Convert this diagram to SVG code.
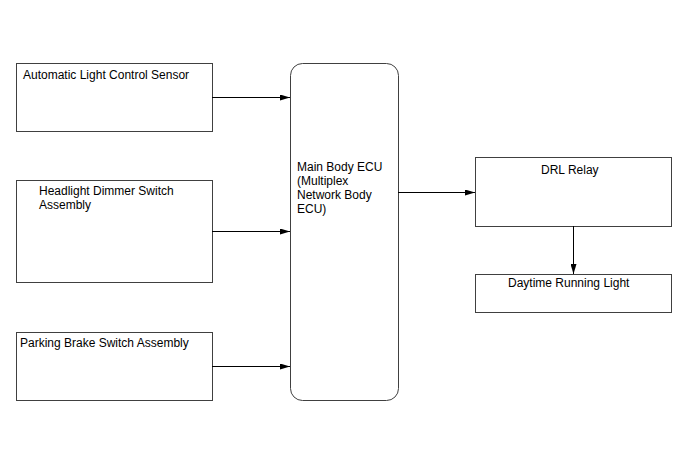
<svg xmlns="http://www.w3.org/2000/svg" width="688" height="463" viewBox="0 0 688 463">
<style>
.b{fill:#fff;stroke:#404040;stroke-width:1}
.t{font-family:"Liberation Sans",Arial,sans-serif;font-size:12px;fill:#000}
.c{stroke:#000;stroke-width:1;fill:none;marker-end:url(#a)}
</style>
<defs>
<marker id="a" markerWidth="10" markerHeight="6" refX="10" refY="3" orient="auto" markerUnits="userSpaceOnUse">
<path d="M0,0 L10,3 L0,6 Z" fill="#000"/>
</marker>
</defs>
<rect width="688" height="463" fill="#fff"/>
<g id="n1"><rect class="b" x="16.5" y="63.5" width="196" height="68"/><text class="t" x="23" y="79">Automatic Light Control Sensor</text></g>
<g id="n2"><rect class="b" x="16.5" y="180.5" width="196" height="102"/><text class="t" x="39" y="195">Headlight Dimmer Switch</text><text class="t" x="39" y="209">Assembly</text></g>
<g id="n3"><rect class="b" x="16.5" y="332.5" width="196" height="68"/><text class="t" x="20" y="347">Parking Brake Switch Assembly</text></g>
<g id="ecu"><rect class="b" x="290.5" y="63.5" width="108" height="337" rx="12"/><text class="t" x="297" y="171">Main Body ECU</text><text class="t" x="297" y="185">(Multiplex</text><text class="t" x="297" y="199">Network Body</text><text class="t" x="297" y="213">ECU)</text></g>
<g id="drl"><rect class="b" x="475.5" y="157.5" width="196" height="69"/><text class="t" x="541" y="174">DRL Relay</text></g>
<g id="light"><rect class="b" x="475.5" y="274.5" width="196" height="38"/><text class="t" x="508" y="287">Daytime Running Light</text></g>
<g id="connectors">
<line class="c" x1="212" y1="97.5" x2="290" y2="97.5"/>
<line class="c" x1="212" y1="231.5" x2="290" y2="231.5"/>
<line class="c" x1="212" y1="366.5" x2="290" y2="366.5"/>
<line class="c" x1="398" y1="192.5" x2="475" y2="192.5"/>
<line class="c" x1="573.5" y1="226" x2="573.5" y2="274"/>
</g>
</svg>
